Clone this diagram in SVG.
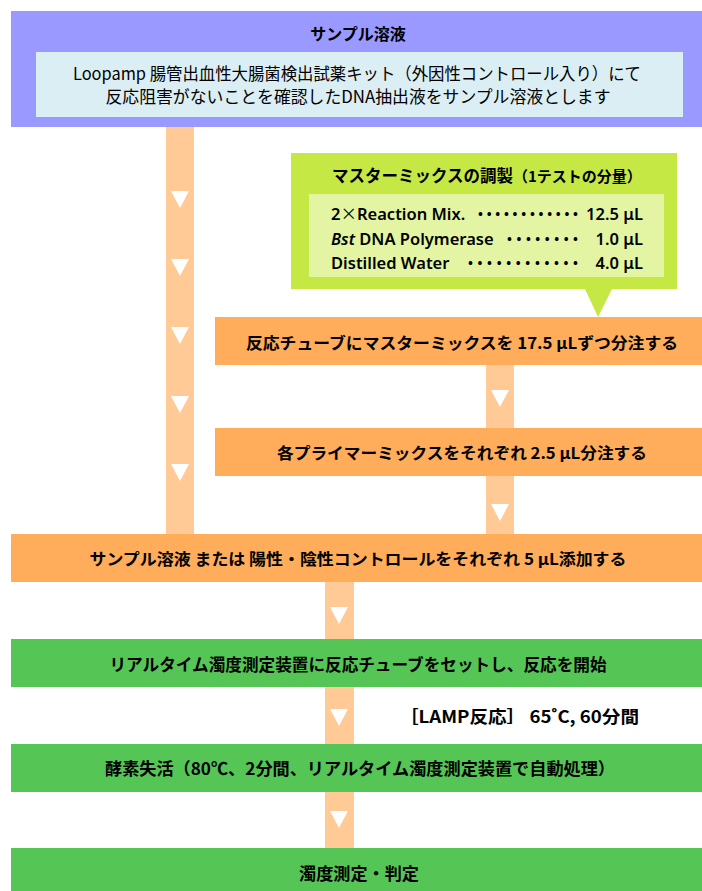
<svg xmlns="http://www.w3.org/2000/svg" width="702" height="891" viewBox="0 0 702 891">
<defs>
<style>
.bar{fill:#FFCA96}
.tri{fill:#FFFFFF}
.orange{fill:#FFAD5A}
.green{fill:#55C655}
.jp{font-family:"Noto Sans CJK JP","Noto Sans",sans-serif;fill:#000}
.b{font-weight:bold}
.lat{font-family:"Noto Sans","Noto Sans CJK JP",sans-serif;font-weight:600;fill:#000;font-size:16.5px}
.dots{font-family:"Noto Sans",sans-serif;font-weight:bold;fill:#000;font-size:13px}
.mid{text-anchor:middle}
.end{text-anchor:end}
</style>
<path id="arrow" d="M-9,0 L9,0 L0,17 Z"/>
</defs>
<rect x="0" y="0" width="702" height="891" fill="#FFFFFF"/>
<g id="connectors">
<rect class="bar" x="166" y="127" width="28" height="408"/>
<rect class="bar" x="486" y="365" width="28" height="170"/>
<rect class="bar" x="325" y="582" width="29" height="267"/>
<use href="#arrow" class="tri" x="180" y="191"/>
<use href="#arrow" class="tri" x="180" y="259"/>
<use href="#arrow" class="tri" x="180" y="327"/>
<use href="#arrow" class="tri" x="180" y="396"/>
<use href="#arrow" class="tri" x="180" y="464"/>
<use href="#arrow" class="tri" x="500" y="390"/>
<use href="#arrow" class="tri" x="500" y="504"/>
<use href="#arrow" class="tri" x="339" y="607"/>
<use href="#arrow" class="tri" x="339" y="709"/>
<use href="#arrow" class="tri" x="339" y="811"/>
</g>
<g id="sample">
<rect x="11" y="11" width="691" height="116" fill="#9999FF"/>
<text class="jp b mid" x="358" y="40" font-size="16">サンプル溶液</text>
<rect x="36" y="52" width="647" height="65" fill="#DBEEF3"/>
<text class="jp mid" x="357" y="80" font-size="17" textLength="568" lengthAdjust="spacingAndGlyphs">Loopamp 腸管出血性大腸菌検出試薬キット（外因性コントロール入り）にて</text>
<text class="jp mid" x="358" y="103" font-size="17" textLength="505" lengthAdjust="spacingAndGlyphs">反応阻害がないことを確認したDNA抽出液をサンプル溶液とします</text>
</g>
<g id="mastermix">
<path d="M291,153 H677 V289 H612 L598,317 L585,289 H291 Z" fill="#C5E845"/>
<text class="jp b" x="332" y="182" font-size="16.5">マスターミックスの調製<tspan font-size="15">（1テストの分量）</tspan></text>
<rect x="309" y="194" width="355" height="83" fill="#E3F5A3"/>
<text class="lat" x="331" y="220">2<tspan font-family="Noto Sans CJK JP, sans-serif" font-weight="normal">×</tspan>Reaction Mix.</text>
<text class="lat" x="331" y="245"><tspan font-style="italic">Bst</tspan> DNA Polymerase</text>
<text class="lat" x="331" y="269">Distilled Water</text>
<text class="dots" x="478" y="219" textLength="100" lengthAdjust="spacing">••••••••••••</text>
<text class="dots" x="507" y="244" textLength="71" lengthAdjust="spacing">••••••••</text>
<text class="dots" x="468" y="268" textLength="110" lengthAdjust="spacing">••••••••••••</text>
<text class="lat end" x="643" y="220">12.5 μL</text>
<text class="lat end" x="643" y="245">1.0 μL</text>
<text class="lat end" x="643" y="269">4.0 μL</text>
</g>
<g id="step1">
<rect class="orange" x="215" y="317" width="487" height="48"/>
<text class="jp b mid" x="462" y="349" font-size="16" textLength="432" lengthAdjust="spacingAndGlyphs">反応チューブにマスターミックスを 17.5 μLずつ分注する</text>
</g>
<g id="step2">
<rect class="orange" x="215" y="428" width="487" height="48"/>
<text class="jp b mid" x="462" y="459" font-size="16" textLength="370" lengthAdjust="spacingAndGlyphs">各プライマーミックスをそれぞれ 2.5 μL分注する</text>
</g>
<g id="step3">
<rect class="orange" x="11" y="534" width="691" height="48"/>
<text class="jp b mid" x="358" y="565" font-size="16" textLength="537" lengthAdjust="spacingAndGlyphs">サンプル溶液 または 陽性・陰性コントロールをそれぞれ 5 μL添加する</text>
</g>
<g id="step4">
<rect class="green" x="11" y="639" width="691" height="48"/>
<text class="jp b mid" x="358" y="671" font-size="17" textLength="497" lengthAdjust="spacingAndGlyphs">リアルタイム濁度測定装置に反応チューブをセットし、反応を開始</text>
</g>
<text id="lamp" class="jp b" x="400" y="723" font-size="17" textLength="239" lengthAdjust="spacingAndGlyphs">［LAMP反応］ 65˚C, 60分間</text>
<g id="step5">
<rect class="green" x="11" y="744" width="691" height="48"/>
<text class="jp b mid" x="360" y="775" font-size="17" textLength="510" lengthAdjust="spacingAndGlyphs">酵素失活（80℃、2分間、リアルタイム濁度測定装置で自動処理）</text>
</g>
<g id="step6">
<rect class="green" x="11" y="848" width="691" height="43"/>
<text class="jp b mid" x="359" y="880" font-size="17" textLength="120" lengthAdjust="spacingAndGlyphs">濁度測定・判定</text>
</g>
</svg>
